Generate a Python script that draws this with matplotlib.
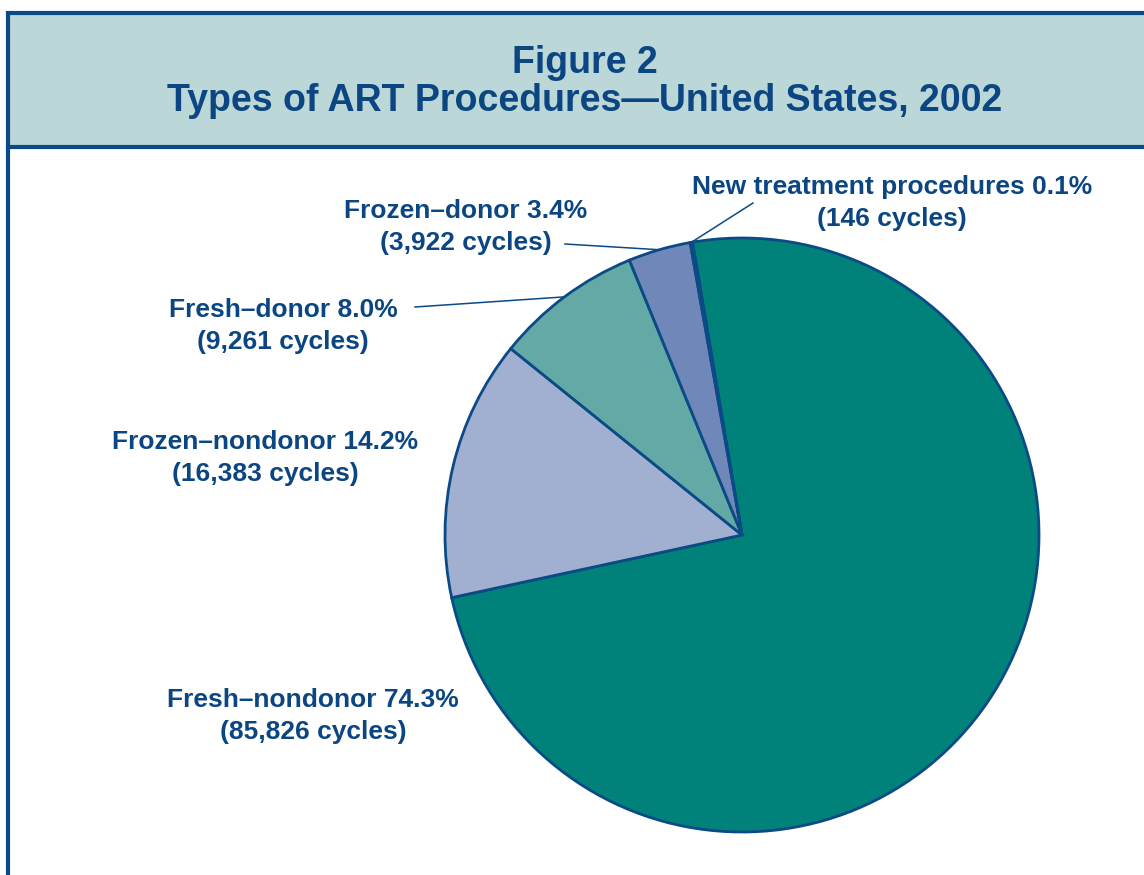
import matplotlib
matplotlib.use("Agg")
import matplotlib.pyplot as plt
from matplotlib import font_manager
from matplotlib.patches import Rectangle
import numpy as np

# ---- data ----
categories = ["Fresh\u2013nondonor", "Frozen\u2013nondonor", "Fresh\u2013donor",
              "Frozen\u2013donor", "New treatment procedures"]
cycles = [85826, 16383, 9261, 3922, 146]
percent_labels = ["74.3%", "14.2%", "8.0%", "3.4%", "0.1%"]
cycle_labels = ["85,826", "16,383", "9,261", "3,922", "146"]
title_lines = ["Figure 2", "Types of ART Procedures\u2014United States, 2002"]

# ---- style ----
W, H = 1144, 875
navy = "#0B4682"
edge = "#0C4A86"
header_bg = "#BCD7D7"
colors = ["#00827A", "#A1AFD0", "#63A9A5", "#7088B9", "#A8CFCB"]

names = {f.name for f in font_manager.fontManager.ttflist}
title_font = "Liberation Sans Narrow" if "Liberation Sans Narrow" in names else "Liberation Sans"
label_font = "Liberation Sans"

fig = plt.figure(figsize=(W / 100, H / 100), dpi=100)
ax = fig.add_axes([0, 0, 1, 1])

def Y(y):
    return H - y

# header box
ax.add_patch(Rectangle((8, Y(147)), W + 10, 134, facecolor=header_bg,
                       edgecolor=edge, linewidth=3, zorder=1))
ax.plot([8, 8], [Y(147), -5], color=edge, linewidth=3, zorder=2, solid_capstyle="butt")
ax.text(585, Y(63), title_lines[0], ha="center", va="center", color=navy,
        fontsize=27, fontweight="bold", family=title_font)
ax.text(585, Y(101), title_lines[1], ha="center", va="center", color=navy,
        fontsize=27, fontweight="bold", family=title_font)

# pie
cx, cy, r = 742, Y(535), 297
startangle = 99.6
wedges, _ = ax.pie(cycles, colors=colors, startangle=startangle, counterclock=False,
                   center=(cx, cy), radius=r, frame=True,
                   wedgeprops=dict(edgecolor=edge, linewidth=2))
ax.set_xlim(0, W)
ax.set_ylim(0, H)
ax.axis("off")

# labels
label_pos = [(313, 716), (265, 458), (283, 326), (466, 227), (892, 203)]
leader_start = [None, None, (415, 307), (565, 244), (753, 203)]
for i, w in enumerate(wedges):
    x, y = label_pos[i]
    ax.text(x, Y(y), f"{categories[i]} {percent_labels[i]}\n({cycle_labels[i]} cycles)",
            ha="center", va="center", color=navy, fontsize=19, fontweight="bold",
            family=label_font, linespacing=1.45)
    if leader_start[i] is not None:
        mid = np.deg2rad((w.theta1 + w.theta2) / 2)
        ex, ey = cx + r * np.cos(mid), cy + r * np.sin(mid)
        sx, sy = leader_start[i]
        ax.plot([sx, ex], [Y(sy), ey], color=edge, linewidth=1.1, zorder=3)

fig.savefig("out.png", dpi=100)
